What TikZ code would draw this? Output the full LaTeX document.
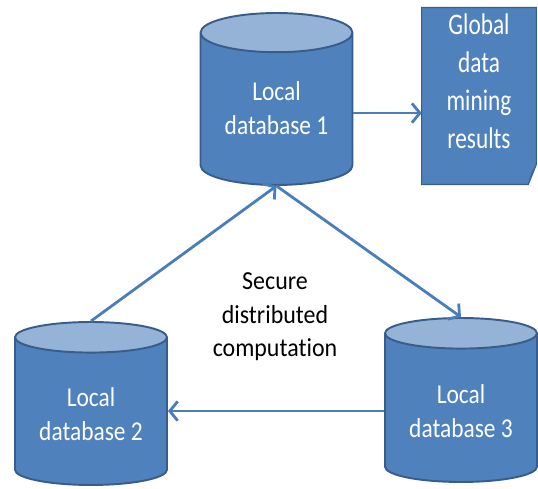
\documentclass[tikz,border=0pt]{standalone}
\usepackage{fontspec}
\setmainfont{Carlito}[Ligatures=NoCommon]
\newfontfamily\notefont{Carlito}[FakeStretch=0.92,Ligatures=NoCommon]
\newfontfamily\dbfont{Carlito}[FakeStretch=0.86,Ligatures=NoCommon]
\newfontfamily\docfont{Carlito}[FakeStretch=0.78,Ligatures=NoCommon]
\usetikzlibrary{arrows.meta,shapes.geometric,calc,backgrounds}
\definecolor{dbblue}{HTML}{4F81BD}
\definecolor{dbtop}{HTML}{95B3D7}
\definecolor{dbedge}{HTML}{385D8A}
\definecolor{flowblue}{HTML}{4A7EBB}
\definecolor{folddark}{HTML}{3A6296}
\tikzset{
  db/.style={cylinder, shape border rotate=90, anchor=shape center,
    draw=dbedge, line width=1.1pt,
    cylinder uses custom fill, cylinder body fill=dbblue, cylinder end fill=dbtop,
    minimum width=3.04cm, text=white, align=center,
    font=\dbfont\fontsize{15.5}{19.3}\selectfont},
  docbox/.style={minimum width=2.28cm, minimum height=3.44cm, text=white,
    text depth=0.6cm, align=center, font=\docfont\fontsize{17}{21.6}\selectfont},
  note/.style={align=center, font=\notefont\fontsize{14.8}{19}\selectfont},
  flow/.style={draw=flowblue, line width=1.6pt,
    -{Straight Barb[length=4.5pt,width=11pt]}},
}
\begin{document}
\begin{tikzpicture}[x=0.02cm,y=-0.02cm]
  \useasboundingbox (0,0) rectangle (538,489);

  % databases
  \node[db, minimum height=3.44cm, aspect=0.34, text depth=0.2cm] (db1) at (276.5,99) {Local\\database 1};
  \node[db, minimum height=3.26cm, aspect=0.265] (db2) at (91,403.5) {Local\\database 2};
  \node[db, minimum height=3.28cm, aspect=0.265] (db3) at (461,400) {Local\\database 3};

  % result sheet
  \node[docbox] (doc) at (479,96) {Global\\data\\mining\\results};
  \begin{scope}[on background layer]
    \filldraw[fill=dbblue, draw=dbedge, line width=0.6pt]
      (doc.north west) -- (doc.north east) -- ($(doc.south east)+(0,-20)$)
      -- ($(doc.south east)+(-8,0)$) -- (doc.south west) -- cycle;
    \fill[folddark] ($(doc.south east)+(0,-20)$) .. controls ($(doc.south east)+(-6,-10)$) ..
      ($(doc.south east)+(-8,0)$) -- cycle;
  \end{scope}

  \node[note] (sdc) at (275,317) {Secure\\distributed\\computation};

  % connectors
  \draw[flow] (db1.east) -- (db1.east -| doc.west);
  \draw[flow] (db2.north) -- (db1.south);
  \draw[flow] (db1.south) -- (db3.north);
  \draw[flow] (db3.west) -- (db3.west -| db2.east);
\end{tikzpicture}
\end{document}
